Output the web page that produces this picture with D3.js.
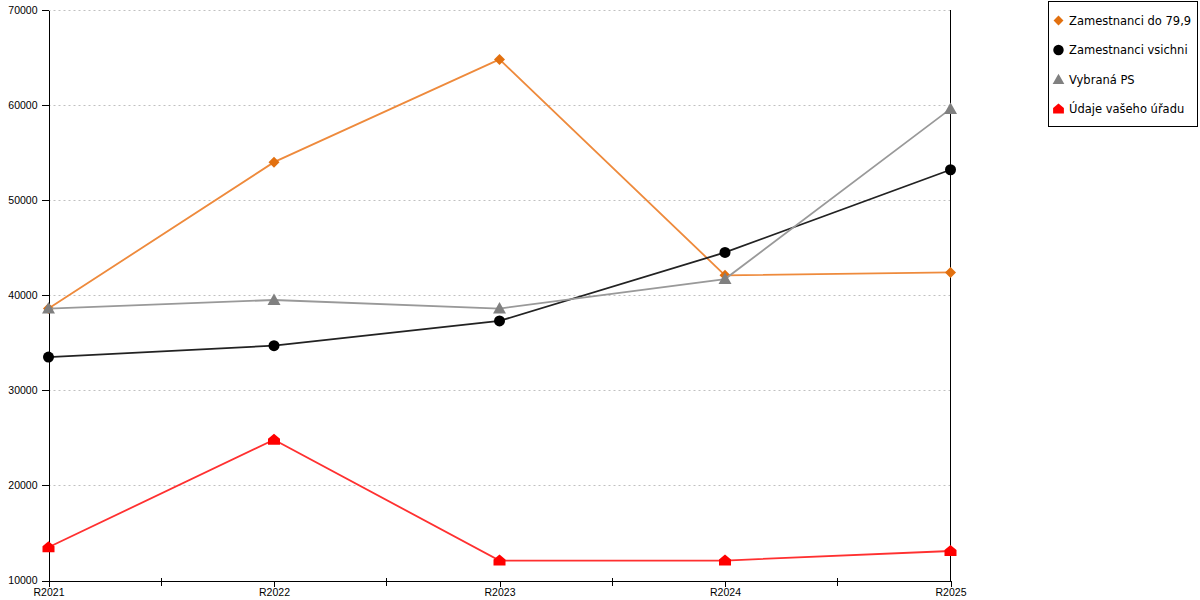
<!DOCTYPE html>
<html>
<head>
<meta charset="utf-8">
<script src="https://cdn.jsdelivr.net/npm/d3@7"></script>
<style>
  body { margin: 0; background: #fff; }
  svg { font-family: 'DejaVu Sans', sans-serif; }
</style>
</head>
<body>
<div id="canvas"></div>
<script>
const years = ['R2021', 'R2022', 'R2023', 'R2024', 'R2025']
const yTicks = [10000, 20000, 30000, 40000, 50000, 60000, 70000]
const seriesNames = ['Zamestnanci do 79,9', 'Zamestnanci vsichni', 'Vybraná PS', 'Údaje vašeho úřadu']
const zamDo799 = [38600, 54000, 64800, 42100, 42400]
const zamVsichni = [33500, 34700, 37300, 44500, 53200]
const vybranaPS = [38600, 39500, 38600, 41700, 59600]
const udajeUradu = [13500, 24800, 12100, 12100, 13100]

const width = 1200
const height = 600
const margin = { top: 10, left: 48.5, bottom: 19.5, right: 249.5 }
const iwidth = width - margin.left - margin.right
const iheight = height - margin.top - margin.bottom

const svg = d3.select('#canvas').append('svg')
  .attr('width', width)
  .attr('height', height)

const g = svg.append('g')
  .attr('transform', `translate(${margin.left},${margin.top})`)

const x = d3.scalePoint().domain(years).range([0, iwidth])
const y = d3.scaleLinear().domain([10000, 70000]).range([iheight, 0])

// grid
g.append('g')
  .selectAll('line')
  .data(yTicks.slice(1))
  .join('line')
  .attr('x1', 0)
  .attr('x2', iwidth)
  .attr('y1', (d) => Math.round(y(d)) + 0.5)
  .attr('y2', (d) => Math.round(y(d)) + 0.5)
  .attr('stroke', '#c0c0c0')
  .attr('stroke-dasharray', '2,3')

// y axis left
const yAxis = g.append('g')
  .call(d3.axisLeft(y).tickValues(yTicks).tickFormat(d3.format('d')).tickSize(7).tickSizeOuter(0))
yAxis.selectAll('text').attr('font-size', 10.5).attr('fill', '#000').attr('dx', '-1')
yAxis.select('.domain').attr('stroke', '#000')
yAxis.attr('shape-rendering', 'crispEdges')

// right line
g.append('line')
  .attr('x1', iwidth).attr('x2', iwidth)
  .attr('y1', 0).attr('y2', iheight)
  .attr('stroke', '#000')
  .attr('shape-rendering', 'crispEdges')

// x axis
const xAxis = g.append('g')
  .attr('transform', `translate(0,${iheight})`)
  .call(d3.axisBottom(x).tickSize(6).tickSizeOuter(0).tickPadding(2))
xAxis.selectAll('text').attr('font-size', 10.5).attr('fill', '#000')
xAxis.select('.domain').attr('stroke', '#000')
xAxis.attr('shape-rendering', 'crispEdges')

// minor ticks in between
const mids = years.slice(1).map((d, i) => (x(years[i]) + x(d)) / 2)
g.append('g')
  .attr('shape-rendering', 'crispEdges')
  .selectAll('line')
  .data(mids)
  .join('line')
  .attr('x1', (d) => d).attr('x2', (d) => d)
  .attr('y1', iheight - 3).attr('y2', iheight + 5)
  .attr('stroke', '#000')

// marker shapes
const diamond = 'M0,-5.5L5.5,0L0,5.5L-5.5,0Z'
const triangle = 'M0,-6.5L6.5,5L-6.5,5Z'
const house = 'M0,-6L6,-1L6,5L-6,5L-6,-1Z'

const series = [
  { name: seriesNames[0], values: zamDo799, line: '#ee8a3c', fill: '#e2700f', shape: diamond },
  { name: seriesNames[1], values: zamVsichni, line: '#222', fill: '#000', shape: 'circle' },
  { name: seriesNames[2], values: vybranaPS, line: '#999', fill: '#808080', shape: triangle },
  { name: seriesNames[3], values: udajeUradu, line: '#ff3030', fill: '#ff0000', shape: house },
]

const line = d3.line()
  .x((d, i) => x(years[i]))
  .y((d) => y(d))

function marker(sel, s) {
  if (s.shape === 'circle') {
    sel.append('circle').attr('r', 5.5).attr('fill', s.fill)
  } else {
    sel.append('path').attr('d', s.shape).attr('fill', s.fill)
  }
}

series.forEach((s) => {
  g.append('path')
    .datum(s.values)
    .attr('d', line)
    .attr('fill', 'none')
    .attr('stroke', s.line)
    .attr('stroke-width', 1.8)
  s.values.forEach((v, i) => {
    const m = g.append('g').attr('transform', `translate(${x(years[i])},${y(v)})`)
    marker(m, s)
  })
})

// legend
const legend = svg.append('g').attr('transform', 'translate(1048.5,1.5)')
legend.append('rect')
  .attr('width', 149)
  .attr('height', 125)
  .attr('fill', '#fff')
  .attr('stroke', '#000')
series.forEach((s, i) => {
  const item = legend.append('g').attr('transform', `translate(10,${19 + i * 29.5})`)
  const m = item.append('g').attr('transform', s.shape === 'circle' ? 'scale(0.95)' : 'scale(0.9)')
  marker(m, s)
  item.append('text')
    .attr('x', 10.5)
    .attr('y', 4)
    .attr('font-size', 11.5)
    .attr('fill', '#000')
    .text(s.name)
})
</script>
</body>
</html>
